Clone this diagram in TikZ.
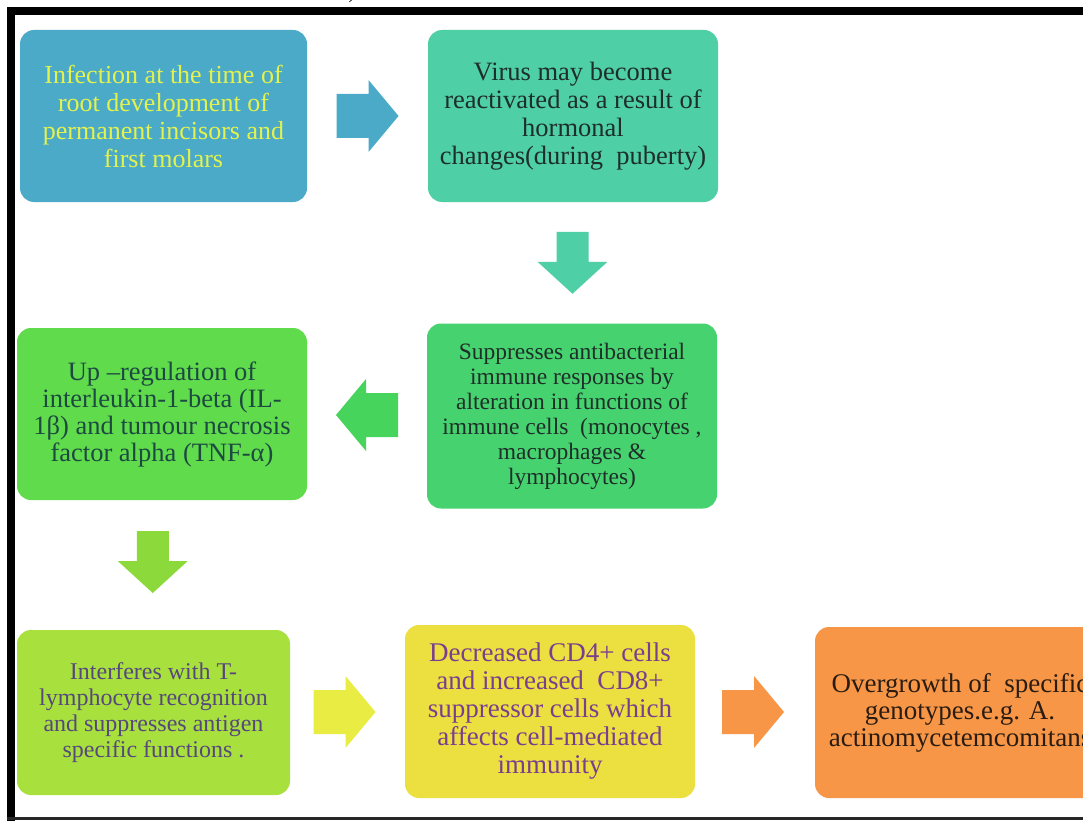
\documentclass[tikz,border=0pt]{standalone}
\usepackage{fontspec}
\setmainfont{Liberation Serif}
\usetikzlibrary{calc}
\definecolor{cB}{HTML}{4AAAC8}
\definecolor{cT}{HTML}{4ECFA6}
\definecolor{cG}{HTML}{47D270}
\definecolor{cG2}{HTML}{60DB4C}
\definecolor{cL}{HTML}{A8E03E}
\definecolor{cY}{HTML}{ECE040}
\definecolor{cO}{HTML}{F79646}
\definecolor{aG}{HTML}{47D45C}
\definecolor{aL}{HTML}{8CD93C}
\definecolor{aY}{HTML}{E9EC42}
\definecolor{tYel}{HTML}{E4F24E}
\definecolor{tDark}{HTML}{1E2E28}
\definecolor{tTeal}{HTML}{1C4A40}
\definecolor{tGrey}{HTML}{56487C}
\definecolor{tPur}{HTML}{7A3E8E}
\definecolor{tBrown}{HTML}{2A1C12}
\tikzset{
  box/.style={draw=none, rounded corners=14pt, align=center, inner sep=2pt, font=\rmfamily},
  rarrow/.pic={\path[pic actions] (-31,-22) -- (1,-22) -- (1,-36) -- (31,0) -- (1,36) -- (1,22) -- (-31,22) -- cycle;},
  larrow/.pic={\path[pic actions] (31,-22) -- (-1,-22) -- (-1,-36) -- (-31,0) -- (-1,36) -- (-1,22) -- (31,22) -- cycle;},
  darrow/.pic={\path[pic actions] (-16,-31) -- (16,-31) -- (16,-1) -- (35,-1) -- (0,31) -- (-35,-1) -- (-16,-1) -- cycle;}
}
\begin{document}
\begin{tikzpicture}[x=1pt,y=-1pt]
\useasboundingbox (0,0) rectangle (1083,821);
\clip (0,0) rectangle (1083,821);
\fill[white] (0,0) rectangle (1083,821);
% frame
\fill[black] (7,7) rectangle (1083,15);
\fill[black] (7,7) rectangle (15,821);
\draw[black!85, line width=2.5pt] (7,818.5) -- (1083,818.5);
\node[anchor=base, font=\fontsize{20}{24}\selectfont, inner sep=0pt] (frag) at (352,-1) {)};
% boxes
\node[box, fill=cB, minimum width=287pt, minimum height=172pt, text=tYel,
  font=\fontsize{26}{28}\selectfont] (b1) at (163.5,116)
  {Infection at the time of\\root development of\\permanent incisors and\\first molars};
\node[box, fill=cT, minimum width=290pt, minimum height=172pt, text=tDark,
  font=\fontsize{26.5}{28}\selectfont] (b2) at (573,116)
  {Virus may become\\reactivated as a result of\\hormonal\\changes(during\ \ puberty)};
\node[box, fill=cG, minimum width=290pt, minimum height=185pt, text=tDark,
  font=\fontsize{23.5}{25}\selectfont] (b3) at (572,416)
  {Suppresses antibacterial\\immune responses by\\alteration in functions of\\immune cells\ \ (monocytes ,\\macrophages \&\\lymphocytes)};
\node[box, fill=cG2, minimum width=290pt, minimum height=172pt, text=tTeal,
  font=\fontsize{26.5}{27}\selectfont] (b4) at (162,414)
  {Up –regulation of\\interleukin-1-beta (IL-\\1β) and tumour necrosis\\factor alpha (TNF-α)};
\node[box, fill=cL, minimum width=273pt, minimum height=165pt, text=tGrey,
  font=\fontsize{24}{26}\selectfont] (b5) at (153.5,712.5)
  {Interferes with T-\\lymphocyte recognition\\and suppresses antigen\\specific functions .};
\node[box, fill=cY, minimum width=290pt, minimum height=173pt, text=tPur,
  font=\fontsize{27}{28}\selectfont] (b6) at (550,711.5)
  {Decreased CD4+ cells\\and increased\ \ CD8+\\suppressor cells which\\affects cell-mediated\\immunity};
\node[box, fill=cO, minimum width=290pt, minimum height=171pt, text=tBrown,
  font=\fontsize{27}{27}\selectfont] (b7) at (960,712.5)
  {Overgrowth of\ \ specific\\genotypes.e.g. A.\\actinomycetemcomitans};
% block arrows
\pic[fill=cB] (a1) at ($(b1.east)!0.5!(b2.west)$) {rarrow};
\pic[fill=cT] (a2) at ($(b2.south)!0.5!(b3.north)$) {darrow};
\pic[fill=aG] (a3) at ($(b3.west)!0.5!(b4.east)$) {larrow};
\pic[fill=aL] (a4) at ($(b4.south)!0.5!(b5.north)+(-5,-3)$) {darrow};
\pic[fill=aY] (a5) at ($(b5.east)!0.5!(b6.west)+(-3,0)$) {rarrow};
\pic[fill=cO] (a6) at ($(b6.east)!0.5!(b7.west)+(-2,0)$) {rarrow};
\end{tikzpicture}
\end{document}
